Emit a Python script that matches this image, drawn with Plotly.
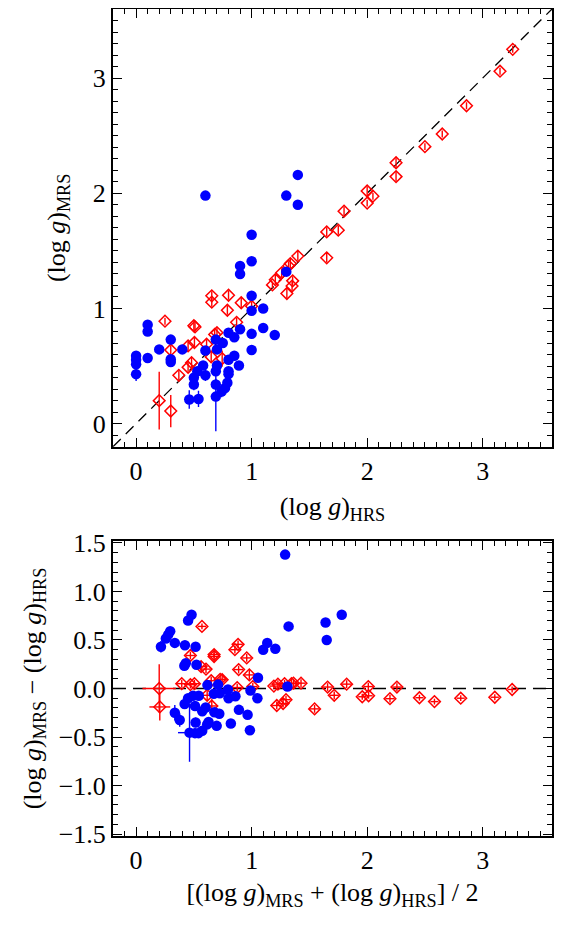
import plotly.graph_objects as go

# log g from the HRS and MRS surveys; sigma is the MRS error
BLUE_HRS = [0.60, 1.40, 1.30, 1.40, 1.00, 1.00, 0.90, 0.90, 1.30, 1.00, 1.00, 1.10,
            0.10, 0.10, 1.10, 1.20, 1.00, 0.90, 0.85, 0.80, 0.30, 0.20, 0.40, 0.30,
            0.30, 0.00, 0.00, 0.00, 0.00, 0.10, 0.60, 0.69, 0.75, 0.70, 0.85, 0.80,
            0.89, 1.00, 0.58, 0.53, 0.50, 0.60, 0.70, 0.69, 0.80, 0.80, 0.50, 0.69,
            0.79, 0.77, 0.74, 0.69, 0.46, 0.54]
BLUE_MRS = [1.98, 2.16, 1.98, 1.90, 1.64, 1.41, 1.37, 1.30, 1.32, 1.11, 0.98, 1.00,
            0.86, 0.80, 0.83, 0.77, 0.78, 0.82, 0.75, 0.79, 0.73, 0.645, 0.645, 0.56,
            0.535, 0.59, 0.555, 0.515, 0.43, 0.57, 0.635, 0.73, 0.70, 0.645, 0.59, 0.555,
            0.505, 0.64, 0.505, 0.455, 0.40, 0.42, 0.505, 0.455, 0.455, 0.43, 0.34, 0.34,
            0.355, 0.31, 0.28, 0.235, 0.21, 0.215]
BLUE_ERR = [0.02, 0.02, 0.02, 0.02, 0.02, 0.02, 0.03, 0.03, 0.02, 0.02, 0.02, 0.02,
            0.03, 0.03, 0.04, 0.04, 0.04, 0.03, 0.04, 0.03, 0.04, 0.03, 0.04, 0.03,
            0.04, 0.04, 0.03, 0.03, 0.06, 0.04, 0.03, 0.03, 0.03, 0.03, 0.04, 0.03,
            0.03, 0.04, 0.03, 0.04, 0.04, 0.05, 0.03, 0.04, 0.03, 0.03, 0.05, 0.05,
            0.04, 0.05, 0.05, 0.30, 0.08, 0.07]

RED_HRS = [3.26, 3.15, 2.86, 2.65, 2.50, 2.25, 2.25, 2.00, 2.05, 2.00, 1.80, 1.65,
           1.75, 1.65, 1.40, 1.335, 1.32, 1.26, 1.205, 1.18, 1.355, 1.35, 1.305, 0.655,
           0.655, 0.80, 0.91, 0.79, 1.00, 0.25, 0.50, 0.51, 0.87, 0.70, 0.68, 0.505,
           0.45, 0.61, 0.30, 0.65, 0.745, 0.48, 0.45, 0.37, 0.20, 0.30]
RED_MRS = [3.25, 3.06, 2.76, 2.515, 2.405, 2.265, 2.145, 2.02, 1.975, 1.915, 1.845, 1.665,
           1.68, 1.44, 1.455, 1.39, 1.37, 1.31, 1.25, 1.205, 1.24, 1.195, 1.13, 1.11,
           1.055, 1.115, 1.05, 0.985, 1.02, 0.89, 0.85, 0.84, 0.88, 0.79, 0.775, 0.705,
           0.675, 0.69, 0.64, 0.58, 0.565, 0.53, 0.49, 0.42, 0.20, 0.11]
RED_ERR = [0.03, 0.03, 0.03, 0.03, 0.03, 0.04, 0.04, 0.04, 0.03, 0.03, 0.04, 0.04,
           0.04, 0.04, 0.04, 0.04, 0.04, 0.04, 0.04, 0.03, 0.04, 0.04, 0.04, 0.04,
           0.04, 0.04, 0.05, 0.04, 0.04, 0.03, 0.04, 0.04, 0.04, 0.04, 0.04, 0.04,
           0.05, 0.04, 0.04, 0.05, 0.07, 0.04, 0.04, 0.04, 0.25, 0.14]

X_RANGE = [-0.2, 3.6]
Y_RANGE = [-0.2, 3.6]
DY_RANGE = [-1.52, 1.52]
X_TICKS = [0, 1, 2, 3]
Y_TICKS = [0, 1, 2, 3]
DY_TICKS = [-1.5, -1.0, -0.5, 0, 0.5, 1.0, 1.5]

FONT = 'Liberation Serif'
BLUE = '#0000ff'
RED = '#ff0000'
TOP_DOMAIN = [0.4707, 1]
BOT_DOMAIN = [0, 0.3567]


def mean_diff(hrs, mrs):
    m = [(a + b) / 2 for a, b in zip(hrs, mrs)]
    d = [b - a for a, b in zip(hrs, mrs)]
    return m, d


def axis_style(rng, tickvals, anchor, domain, fmt=None):
    ax = dict(range=rng, tickvals=tickvals, anchor=anchor, domain=domain,
              ticks='inside', ticklen=9, tickwidth=1.3, tickcolor='black',
              showline=True, linewidth=2, linecolor='black', mirror='ticks',
              showgrid=False, zeroline=False, automargin=False,
              tickfont=dict(family=FONT, size=26, color='black'),
              minor=dict(dtick=0.1, ticks='inside', ticklen=5, tickwidth=1.3,
                         tickcolor='black', showgrid=False))
    if fmt:
        ax['tickformat'] = fmt
    return ax


red_marker = dict(symbol='diamond-open', size=9, color=RED, line=dict(width=1.5, color=RED))
blue_marker = dict(symbol='circle', size=10.5, color=BLUE)

fig = go.Figure()

# top panel: MRS vs HRS
fig.add_trace(go.Scatter(x=X_RANGE, y=X_RANGE, mode='lines',
                         line=dict(color='black', width=1.3, dash='11px,7px'),
                         xaxis='x', yaxis='y', showlegend=False, hoverinfo='skip'))
fig.add_trace(go.Scatter(x=RED_HRS, y=RED_MRS, mode='markers', marker=red_marker,
                         error_y=dict(array=RED_ERR, color=RED, thickness=1.4, width=0),
                         xaxis='x', yaxis='y', showlegend=False))
fig.add_trace(go.Scatter(x=BLUE_HRS, y=BLUE_MRS, mode='markers', marker=blue_marker,
                         error_y=dict(array=BLUE_ERR, color=BLUE, thickness=1.4, width=0),
                         xaxis='x', yaxis='y', showlegend=False))

# bottom panel: difference vs mean
red_m, red_d = mean_diff(RED_HRS, RED_MRS)
blue_m, blue_d = mean_diff(BLUE_HRS, BLUE_MRS)
fig.add_trace(go.Scatter(x=X_RANGE, y=[0, 0], mode='lines',
                         line=dict(color='black', width=1.3, dash='13px,7px'),
                         xaxis='x2', yaxis='y2', showlegend=False, hoverinfo='skip'))
fig.add_trace(go.Scatter(x=red_m, y=red_d, mode='markers', marker=red_marker,
                         error_y=dict(array=RED_ERR, color=RED, thickness=1.4, width=0),
                         error_x=dict(array=[e / 2 + 0.02 for e in RED_ERR], color=RED,
                                      thickness=1.4, width=0),
                         xaxis='x2', yaxis='y2', showlegend=False))
fig.add_trace(go.Scatter(x=blue_m, y=blue_d, mode='markers', marker=blue_marker,
                         error_y=dict(array=BLUE_ERR, color=BLUE, thickness=1.4, width=0),
                         error_x=dict(array=[e / 3 for e in BLUE_ERR], color=BLUE,
                                      thickness=1.4, width=0),
                         xaxis='x2', yaxis='y2', showlegend=False))

title_font = dict(family=FONT, size=26, color='black')
xa = axis_style(X_RANGE, X_TICKS, 'y', [0, 1])
xa['title'] = dict(text='(log <i>g</i>)<sub>HRS</sub>', font=title_font, standoff=12)
ya = axis_style(Y_RANGE, Y_TICKS, 'x', TOP_DOMAIN)
ya['title'] = dict(text='(log <i>g</i>)<sub>MRS</sub>', font=title_font, standoff=20)
xa2 = axis_style(X_RANGE, X_TICKS, 'y2', [0, 1])
xa2['title'] = dict(text='[(log <i>g</i>)<sub>MRS</sub> + (log <i>g</i>)<sub>HRS</sub>] / 2',
                    font=title_font, standoff=9)
ya2 = axis_style(DY_RANGE, DY_TICKS, 'x2', BOT_DOMAIN, '.1f')
ya2['title'] = dict(text='(log <i>g</i>)<sub>MRS</sub> \u2212 (log <i>g</i>)<sub>HRS</sub>',
                    font=title_font, standoff=10)

# the page body adds an 8px offset, so the margins absorb it
fig.update_layout(
    width=581, height=930,
    margin=dict(l=105, r=37, t=1, b=102),
    paper_bgcolor='white', plot_bgcolor='white',
    font=dict(family=FONT, color='black'),
    xaxis=xa, yaxis=ya, xaxis2=xa2, yaxis2=ya2,
)

fig.write_html("out.html")
